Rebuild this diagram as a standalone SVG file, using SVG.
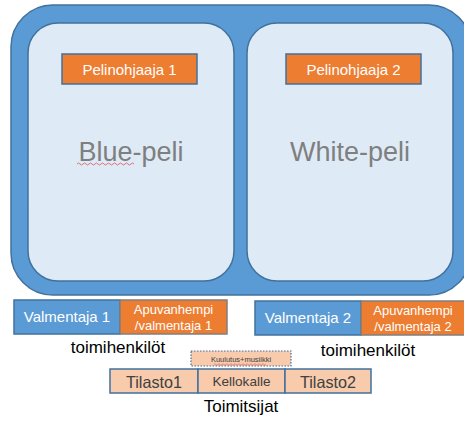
<svg xmlns="http://www.w3.org/2000/svg" width="464" height="423" viewBox="0 0 464 423">
<style>
text{font-family:"Liberation Sans",Arial,sans-serif;}
.outer{fill:#5b9bd5;stroke:#41719c;stroke-width:1.5;}
.inner{fill:#deebf7;stroke:#41719c;stroke-width:1.5;}
.orange{fill:#ed7d31;stroke:#41719c;stroke-width:1.5;}
.orangeg{fill:#ed7d31;stroke:#7f7f7f;stroke-width:1.5;}
.blue{fill:#5b9bd5;stroke:#41719c;stroke-width:1.5;}
.peach{fill:#f8cbad;stroke:#41719c;stroke-width:1.5;}
.w{fill:#ffffff;text-anchor:middle;}
.game{fill:#7f7f7f;font-size:27px;text-anchor:middle;}
.lbl{fill:#000000;font-size:17px;text-anchor:middle;}
.dk{fill:#404040;text-anchor:middle;}
</style>
<g id="field">
<rect class="outer" x="11" y="5" width="460" height="290" rx="42" ry="42"/>
</g>
<g id="blue-peli">
<rect class="inner" x="28" y="23" width="206" height="258" rx="30" ry="30"/>
<text class="game" x="131" y="161">Blue-peli</text>
<path d="M77 164 q1.5 -2 3 0 t3 0 t3 0 t3 0 t3 0 t3 0 t3 0 t3 0 t3 0 t3 0 t3 0 t3 0 t3 0 t3 0 t3 0 t3 0 t3 0 t3 0 t3 0" fill="none" stroke="#e05050" stroke-width="0.8"/>
</g>
<g id="white-peli">
<rect class="inner" x="247" y="23" width="206" height="258" rx="30" ry="30"/>
<text class="game" x="350" y="161">White-peli</text>
</g>
<g id="pelinohjaaja1">
<rect class="orange" x="62" y="54" width="135" height="30"/>
<text class="w" x="129.5" y="75" font-size="15">Pelinohjaaja 1</text>
</g>
<g id="pelinohjaaja2">
<rect class="orange" x="286" y="54" width="135" height="30"/>
<text class="w" x="353.5" y="75" font-size="15">Pelinohjaaja 2</text>
</g>
<g id="valmentaja1">
<rect class="blue" x="14" y="300" width="106" height="34" stroke="#9dc3e6"/>
<text class="w" x="67" y="322" font-size="15">Valmentaja 1</text>
</g>
<g id="apuvanhempi1">
<rect class="orangeg" x="120" y="300" width="107" height="34"/>
<text class="w" x="173.5" y="314" font-size="13">Apuvanhempi</text>
<text class="w" x="173.5" y="330" font-size="13">/valmentaja 1</text>
</g>
<g id="valmentaja2">
<rect class="blue" x="255" y="301" width="106" height="34"/>
<text class="w" x="308" y="323" font-size="15">Valmentaja 2</text>
</g>
<g id="apuvanhempi2">
<rect class="orangeg" x="361" y="301" width="104" height="34"/>
<text class="w" x="413" y="315" font-size="13">Apuvanhempi</text>
<text class="w" x="413" y="331" font-size="13">/valmentaja 2</text>
</g>
<text class="lbl" x="118" y="353">toimihenkilöt</text>
<text class="lbl" x="368" y="356">toimihenkilöt</text>
<g id="kuulutus">
<rect x="191" y="351" width="100" height="15" fill="#f8cbad" stroke="#41719c" stroke-width="1.2" stroke-dasharray="1.5,1.5"/>
<text class="dk" x="241" y="362" font-size="7.5">Kuulutus+musiikki</text>
<path d="M214 364.5 q1 -1.5 2 0 t2 0 t2 0 t2 0 t2 0 t2 0 t2 0 t2 0 t2 0 t2 0 t2 0 t2 0 t2 0 t2 0 t2 0 t2 0 t2 0 t2 0 t2 0 t2 0 t2 0 t2 0 t2 0 t2 0 t2 0 t2 0" fill="none" stroke="#e05050" stroke-width="0.6"/>
</g>
<g id="tilasto1">
<rect class="peach" x="110" y="369" width="88" height="24"/>
<text class="dk" x="154" y="388" font-size="16.5" textLength="56" lengthAdjust="spacingAndGlyphs">Tilasto1</text>
</g>
<g id="kellokalle">
<rect class="peach" x="198" y="369" width="87" height="24"/>
<text class="dk" x="241.5" y="386" font-size="13" textLength="58" lengthAdjust="spacingAndGlyphs">Kellokalle</text>
</g>
<g id="tilasto2">
<rect class="peach" x="285" y="369" width="86" height="24"/>
<text class="dk" x="328" y="388" font-size="16.5" textLength="56" lengthAdjust="spacingAndGlyphs">Tilasto2</text>
</g>
<text class="lbl" x="241" y="412">Toimitsijat</text>
<g id="connectors"/>
</svg>
